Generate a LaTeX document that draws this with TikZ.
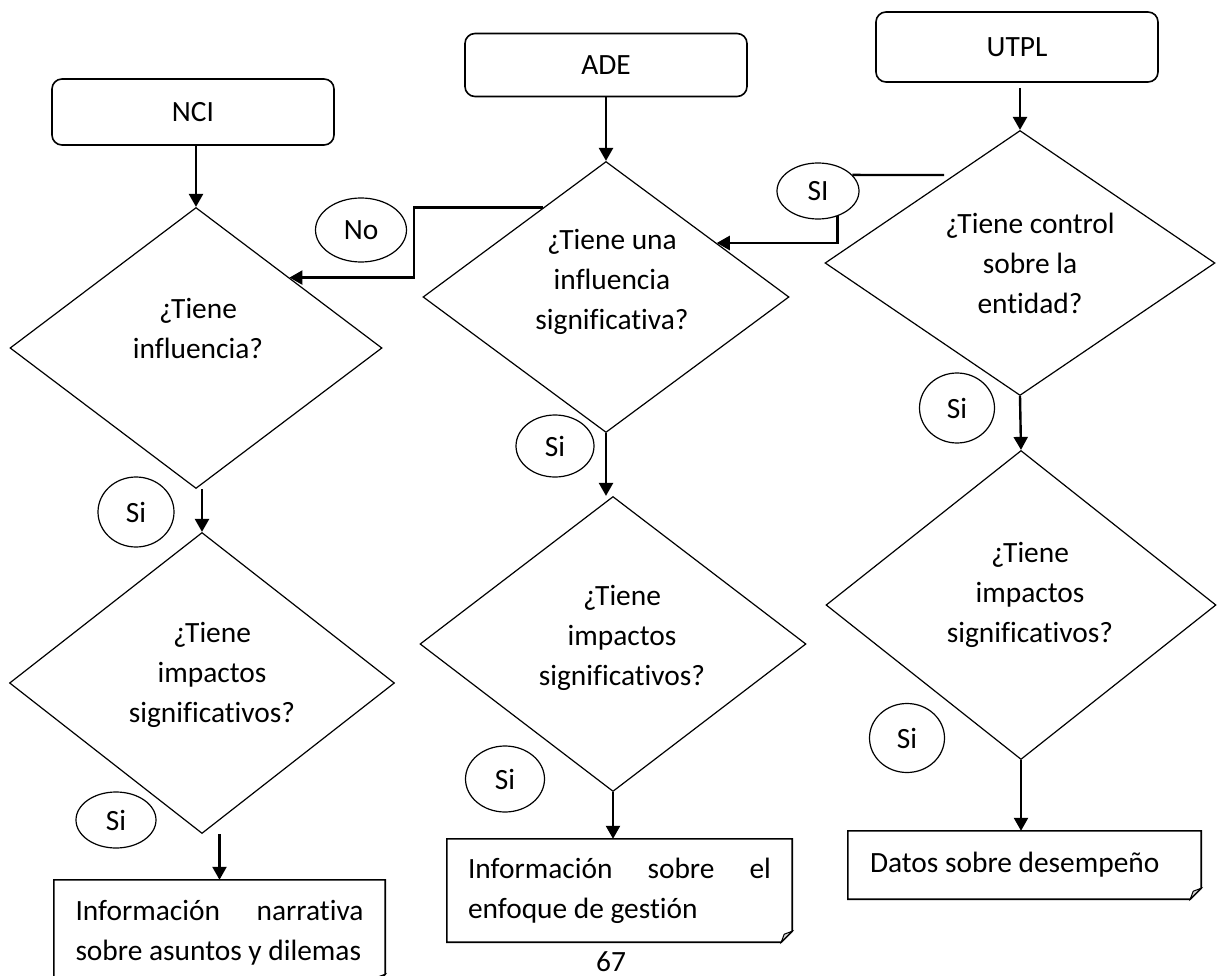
\documentclass[tikz,border=0pt]{standalone}
\usepackage{fontspec}
\setmainfont{Carlito}[Ligatures=NoCommon]
\usetikzlibrary{shapes.geometric,arrows.meta,positioning,calc}
\definecolor{foldFill}{HTML}{D4D4D4}
\setlength{\parindent}{0pt}
\hyphenpenalty=10000

\begin{document}
\begin{tikzpicture}[x=1pt, y=-1pt,
          start/.style={rectangle, rounded corners=10pt, draw, line width=1.6pt, inner sep=0pt, font=\fontsize{29.4}{40}\selectfont},
          ask/.style={diamond, draw, line width=1.2pt, inner sep=0pt},
          question/.style={align=center, inner sep=0pt, font=\fontsize{29.4}{40}\selectfont},
          answer/.style={ellipse, draw, line width=1.2pt, inner sep=0pt, font=\fontsize{29.4}{40}\selectfont},
          result/.style={rectangle, inner sep=0pt, align=flush left, font=\fontsize{29.4}{40}\selectfont},
          flow/.style={-{Triangle[width=14pt,length=13pt]}, line width=2.4pt},
          link/.style={line width=2.4pt}
        ]
          \useasboundingbox (0,0) rectangle (1221,976);
          \clip (0,0) rectangle (1221,976);
          \node[start, minimum width=282pt, minimum height=66pt] (nci) at (193,112) {NCI};
          \node[start, minimum width=282pt, minimum height=63pt] (ade) at (606,65) {ADE};
          \node[start, minimum width=282pt, minimum height=70pt] (utpl) at (1017,47) {UTPL};

          \node[ask, minimum width=372pt, minimum height=281pt] (nci1) at (196,348) {};
          \node[question] (nci1q) at ([xshift=2pt,yshift=20pt]nci1.center) {¿Tiene\\influencia?};
          \node[ask, minimum width=366pt, minimum height=271pt] (ade1) at (606,297) {};
          \node[question] (ade1q) at ([xshift=6pt,yshift=15pt]ade1.center) {¿Tiene una\\influencia\\significativa?};
          \node[ask, minimum width=390pt, minimum height=265pt] (utpl1) at (1020,263) {};
          \node[question] (utpl1q) at ([xshift=10pt]utpl1.center) {¿Tiene control\\sobre la\\entidad?};
          \node[ask, minimum width=385pt, minimum height=301pt] (nci2) at (202,683) {};
          \node[question] (nci2q) at ([xshift=10pt,yshift=8pt]nci2.center) {¿Tiene\\impactos\\significativos?};
          \node[ask, minimum width=386pt, minimum height=295pt] (ade2) at (613,644) {};
          \node[question] (ade2q) at ([xshift=9pt,yshift=6pt]ade2.center) {¿Tiene\\impactos\\significativos?};
          \node[ask, minimum width=390pt, minimum height=309pt] (utpl2) at (1021,605) {};
          \node[question] (utpl2q) at ([xshift=9pt,yshift=10pt]utpl2.center) {¿Tiene\\impactos\\significativos?};

          \node[answer, minimum width=91pt, minimum height=64pt] (no1) at (361,230) {No};
          \node[answer, minimum width=82pt, minimum height=56pt] (si0) at (818,191) {SI};
          \node[answer, minimum width=76pt, minimum height=70pt] (si1) at (136,512) {Si};
          \node[answer, minimum width=80pt, minimum height=56pt] (si2) at (116,820) {Si};
          \node[answer, minimum width=78pt, minimum height=62pt] (si3) at (555,446) {Si};
          \node[answer, minimum width=79pt, minimum height=66pt] (si4) at (505,779) {Si};
          \node[answer, minimum width=75pt, minimum height=70pt] (si5) at (957,408) {Si};
          \node[answer, minimum width=75pt, minimum height=69pt] (si6) at (907,738) {Si};

          \node[result, minimum width=331pt, minimum height=105pt] (nciout) at (219.5,932.5) {\makebox[288pt][s]{Información narrativa}\\sobre asuntos y dilemas};
          \node[result, minimum width=345pt, minimum height=103pt] (adeout) at (619.5,890.5) {\makebox[303pt][s]{Información sobre el}\\enfoque de gestión};
          \node[result, minimum width=353pt, minimum height=68pt, text width=309pt] (utplout) at (1024.5,865) {Datos sobre desempeño};
          \foreach \b in {nciout,adeout,utplout} {
            \draw[line width=1.6pt] (\b.north west) -- (\b.north east) -- ([yshift=11pt]\b.south east) -- ([xshift=-11pt]\b.south east) -- (\b.south west) -- cycle;
            \filldraw[fill=foldFill, line width=1pt] ([yshift=11pt]\b.south east) -- ([xshift=-11pt]\b.south east) -- ([xshift=-8pt,yshift=8pt]\b.south east) -- cycle;
          }
          \node[question, anchor=base] (pnum) at (611,971) {67};

          \draw[flow] (nci1.north |- nci.south) -- (nci1.north);
          \draw[flow] (ade1.north |- ade.south) -- (ade1.north);
          \draw[flow] ([yshift=-5pt]utpl1.north |- utpl.south) -- (utpl1.north);
          \draw[flow] (nci1.south -| nci2.north) -- (nci2.north);
          \draw[flow] (ade1.south) -- (ade1.south |- ade2.north);
          \draw[flow] (utpl1.south) -- (utpl2.north);
          \draw[flow] (nciout.north |- nci2.south) -- (nciout.north);
          \draw[flow] (ade2.south) -- (ade2.south |- adeout.north);
          \draw[flow] (utpl2.south) -- (utpl2.south |- utplout.north);

          \draw[flow] (ade1.125) -- ++(-129,0) |- (nci1.37);
          \coordinate (siend) at (944,175);
          \draw[link] (si0.25) -- (siend);
          \draw[flow] (si0.-52) |- (ade1.26);
        \end{tikzpicture}
\end{document}
